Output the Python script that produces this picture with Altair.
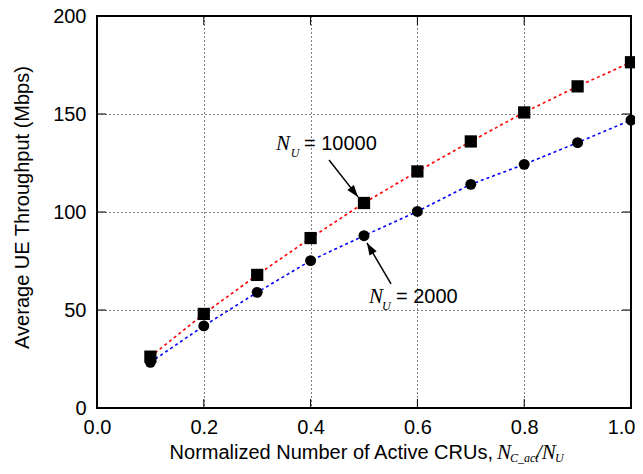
import math
import altair as alt
import pandas as pd

# ---- data ----
x_vals = [0.1, 0.2, 0.3, 0.4, 0.5, 0.6, 0.7, 0.8, 0.9, 1.0]
nu_10000 = [26.2, 48.0, 67.9, 86.7, 104.6, 120.7, 136.0, 150.8, 164.1, 176.4]
nu_2000 = [23.3, 41.9, 59.0, 75.2, 87.9, 100.3, 114.1, 124.3, 135.4, 146.9]

x_ticks = [0.0, 0.2, 0.4, 0.6, 0.8, 1.0]
y_ticks = [0, 50, 100, 150, 200]

# annotations (data coordinates)
arrow_tail_x = [0.4345, 0.5506]
arrow_tail_y = [126.5, 63.3]
arrow_head_x = [0.4888, 0.5056]
arrow_head_y = [107.7, 84.2]

label_n_x = [0.3352, 0.5094]
label_n_y = [131.6, 53.6]
label_sub_x = [0.3630, 0.5335]
label_sub_y = [128.1, 50.0]
label_eq_x = [0.3876, 0.5599]
label_eq_y = [131.6, 53.6]
label_eq_text = ["= 10000", "= 2000"]

W, H = 534, 392
SANS = "Liberation Sans"
SERIF = "Liberation Serif"

df = pd.DataFrame({
    "x": x_vals * 2,
    "y": nu_10000 + nu_2000,
    "series": ["10000"] * len(x_vals) + ["2000"] * len(x_vals),
})
df10 = df[df.series == "10000"]
df2 = df[df.series == "2000"]

xaxis = alt.Axis(values=x_ticks, format=".1f", title=None, ticks=False, domain=False,
                 grid=True, gridDash=[1, 3], gridColor="black", gridOpacity=1, gridWidth=1,
                 labelPadding=9, labelFontSize=20, labelFont=SANS, labelColor="black",
                 labelFlush=False, labelOverlap=False,
                 labelAlign={"condition": {"test": "datum.value >= 1", "value": "right"}, "value": "center"},
                 labelOffset={"condition": {"test": "datum.value >= 1", "value": 4}, "value": 0})
yaxis = alt.Axis(values=y_ticks, title="Average UE Throughput (Mbps)", ticks=False, domain=False,
                 grid=True, gridDash=[1, 3], gridColor="black", gridOpacity=1, gridWidth=1,
                 labelPadding=11, labelFontSize=20, labelFont=SANS, labelColor="black",
                 labelFlush=False, labelOverlap=False,
                 titleFont=SANS, titleFontSize=20, titleFontWeight="normal", titleColor="black",
                 titleX=-69, titleY=191, titleAngle=270, titleAlign="center",
                 titleBaseline="alphabetic")

X = alt.X("x:Q", scale=alt.Scale(domain=[0, 1], nice=False, zero=False), axis=xaxis)
Y = alt.Y("y:Q", scale=alt.Scale(domain=[0, 200], nice=False), axis=yaxis)

lines = alt.Chart(df).mark_line(strokeDash=[3, 3], strokeWidth=1.6).encode(
    x=X, y=Y,
    color=alt.Color("series:N", scale=alt.Scale(domain=["10000", "2000"], range=["#ff0000", "#0000ff"]),
                    legend=None),
)
squares = alt.Chart(df10).mark_point(shape="square", filled=True, size=150, color="black", opacity=1).encode(x=X, y=Y)
circles = alt.Chart(df2).mark_point(shape="circle", filled=True, size=120, color="black", opacity=1).encode(x=X, y=Y)

# inward ticks
xt = pd.DataFrame({"x": x_ticks})
yt = pd.DataFrame({"y": y_ticks})
tick_b = alt.Chart(xt).mark_rule(color="black", strokeWidth=1).encode(x=X, y=alt.value(H), y2=alt.value(H - 9))
tick_t = alt.Chart(xt).mark_rule(color="black", strokeWidth=1).encode(x=X, y=alt.value(0), y2=alt.value(9))
tick_l = alt.Chart(yt).mark_rule(color="black", strokeWidth=1).encode(y=Y, x=alt.value(0), x2=alt.value(9))
tick_r = alt.Chart(yt).mark_rule(color="black", strokeWidth=1).encode(y=Y, x=alt.value(W), x2=alt.value(W - 9))

frame = alt.Chart(pd.DataFrame({"a": [0]})).mark_rect(fillOpacity=0, stroke="black", strokeWidth=2).encode(
    x=alt.value(0), x2=alt.value(W), y=alt.value(0), y2=alt.value(H))

# arrows
px_per_x = W / 1.0
px_per_y = H / 200.0
angles = []
for tx, ty, hx, hy in zip(arrow_tail_x, arrow_tail_y, arrow_head_x, arrow_head_y):
    dx = (hx - tx) * px_per_x
    dy = -(hy - ty) * px_per_y
    angles.append(math.degrees(math.atan2(dx, -dy)) % 360)

arr = pd.DataFrame({"x": arrow_tail_x, "y": arrow_tail_y, "x2": arrow_head_x, "y2": arrow_head_y})
heads = pd.DataFrame({"x": arrow_head_x, "y": arrow_head_y, "angle": angles})
arrow_lines = alt.Chart(arr).mark_rule(color="black", strokeWidth=1.5).encode(
    x=X, y=Y, x2="x2:Q", y2="y2:Q")
arrow_heads = alt.Chart(heads).mark_point(shape="M0,0L-0.35,1L0.35,1Z", filled=True, color="black",
                                          opacity=1, size=576).encode(
    x=X, y=Y, angle=alt.Angle("angle:Q", scale=None))

# annotation labels
ln = pd.DataFrame({"x": label_n_x, "y": label_n_y, "t": ["N", "N"]})
ls = pd.DataFrame({"x": label_sub_x, "y": label_sub_y, "t": ["U", "U"]})
le = pd.DataFrame({"x": label_eq_x, "y": label_eq_y, "t": label_eq_text})
txt_n = alt.Chart(ln).mark_text(font=SERIF, fontStyle="italic", fontSize=21, align="left",
                                baseline="alphabetic", color="black").encode(x=X, y=Y, text="t:N")
txt_s = alt.Chart(ls).mark_text(font=SERIF, fontStyle="italic", fontSize=12, align="left",
                                baseline="alphabetic", color="black").encode(x=X, y=Y, text="t:N")
txt_e = alt.Chart(le).mark_text(font=SANS, fontSize=20, align="left",
                                baseline="alphabetic", color="black").encode(x=X, y=Y, text="t:N")

# x-axis title composed of pieces
one = pd.DataFrame({"a": [0]})
xt_base = 443
xt1 = alt.Chart(one).mark_text(font=SANS, fontSize=20, align="right", baseline="alphabetic",
                               color="black", text="Normalized Number of Active CRUs,").encode(
    x=alt.value(396), y=alt.value(xt_base))
xt2 = alt.Chart(one).mark_text(font=SERIF, fontStyle="italic", fontSize=21, align="left",
                               baseline="alphabetic", color="black", text="N").encode(
    x=alt.value(400), y=alt.value(xt_base))
xt3 = alt.Chart(one).mark_text(font=SERIF, fontStyle="italic", fontSize=12, align="left",
                               baseline="alphabetic", color="black", text="C_act").encode(
    x=alt.value(413), y=alt.value(xt_base + 3))
xt4 = alt.Chart(one).mark_text(font=SERIF, fontStyle="italic", fontSize=21, align="left",
                               baseline="alphabetic", color="black", text="/N").encode(
    x=alt.value(439), y=alt.value(xt_base))
xt5 = alt.Chart(one).mark_text(font=SERIF, fontStyle="italic", fontSize=12, align="left",
                               baseline="alphabetic", color="black", text="U").encode(
    x=alt.value(458), y=alt.value(xt_base + 3))

chart = alt.layer(
    lines, squares, circles, tick_b, tick_t, tick_l, tick_r,
    arrow_lines, arrow_heads, txt_n, txt_s, txt_e,
    xt1, xt2, xt3, xt4, xt5, frame,
).properties(
    width=W, height=H,
    padding={"left": 89, "top": 8, "right": 4, "bottom": 58},
    autosize=alt.AutoSizeParams(type="none"),
    background="white",
).configure_view(stroke=None)

chart.save("out.html", embed_options={"renderer": "svg", "actions": False})
